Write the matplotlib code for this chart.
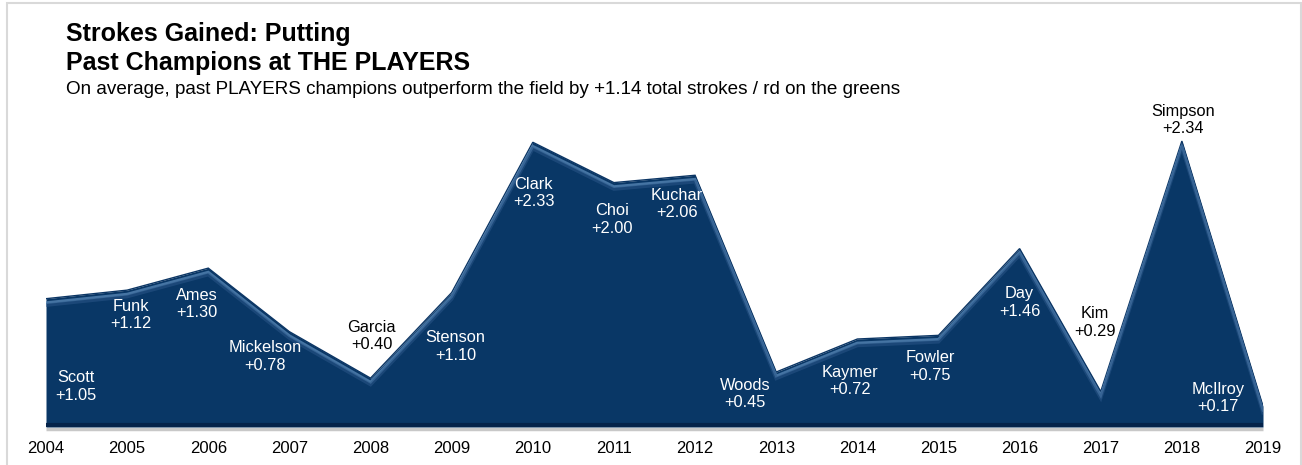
import matplotlib
matplotlib.use("Agg")
import matplotlib.pyplot as plt
import matplotlib.transforms as mtransforms
from matplotlib.patches import Rectangle
import numpy as np

plt.rcParams['font.family'] = ['Liberation Sans', 'DejaVu Sans']

years = [2004, 2005, 2006, 2007, 2008, 2009, 2010, 2011, 2012, 2013,
         2014, 2015, 2016, 2017, 2018, 2019]
players = ["Scott", "Funk", "Ames", "Mickelson", "Garcia", "Stenson", "Clark",
           "Choi", "Kuchar", "Woods", "Kaymer", "Fowler", "Day", "Kim",
           "Simpson", "McIlroy"]
sg_putting = [1.05, 1.12, 1.30, 0.78, 0.40, 1.10, 2.33, 2.00, 2.06, 0.45,
              0.72, 0.75, 1.46, 0.29, 2.34, 0.17]

# label placement offsets (pixels, +dy = downwards) and colours
label_dx = [30, 4, -11, -24, 1, 4, 1, -2, -18, -31, -7, -8, 0, -6, 1, -45]
label_dy = [88, 25, 36, 25, -42, 54, 51, 37, 29, 22, 42, 31, 54, -69, -21, -8]
label_col = ['white'] * 16
label_col[4] = 'black'
label_col[13] = 'black'
label_col[14] = 'black'

W, H = 1302, 465
fig = plt.figure(figsize=(W / 100, H / 100), dpi=100)
fig.patch.set_facecolor('white')

# figure border
fig.add_artist(Rectangle((7 / W, -0.01), (1300.5 - 7) / W, (H - 3.5) / H + 0.01,
                         transform=fig.transFigure, fill=False,
                         edgecolor='#d9d9d9', linewidth=1.5))

x0, x1 = 46, 1263
base = 427
ppu = 122.2
ytop = 2.6
ax = fig.add_axes([x0 / W, (H - base) / H, (x1 - x0) / W, ytop * ppu / H])
ax.set_xlim(years[0], years[-1])
ax.set_ylim(0, ytop)
for s in ax.spines.values():
    s.set_visible(False)
ax.set_yticks([])
ax.set_xticks(years)
ax.set_xticklabels([str(y) for y in years], fontsize=12)
ax.tick_params(axis='x', length=0, pad=10)
ax.patch.set_alpha(0)

fill_col = '#093766'
poly = ax.fill_between(years, 0, sg_putting, color=fill_col, linewidth=0, zorder=2)
clip = poly.get_paths()[0]

# bevel: highlight just inside the top edge
ax.plot(years, sg_putting, color='#0b3564', linewidth=1.0, zorder=3,
        solid_joinstyle='miter')
off = mtransforms.offset_copy(ax.transData, fig=fig, x=0, y=-4, units='dots')
hl, = ax.plot(years, sg_putting, color='#5584b3', linewidth=2.0, alpha=0.8,
              transform=off, zorder=3, solid_joinstyle='miter')
hl.set_clip_path(clip, ax.transData)
off2 = mtransforms.offset_copy(ax.transData, fig=fig, x=0, y=-6.5, units='dots')
hl2, = ax.plot(years, sg_putting, color='#2a5688', linewidth=2.5, alpha=0.55,
               transform=off2, zorder=3, solid_joinstyle='miter')
hl2.set_clip_path(clip, ax.transData)

# bottom dark strip and grey shadow
offb = mtransforms.offset_copy(ax.transData, fig=fig, x=0, y=2, units='dots')
ax.plot([years[0], years[-1]], [0, 0], color='#04234a', linewidth=3,
        transform=offb, zorder=4, solid_capstyle='butt')
offs = mtransforms.offset_copy(ax.transData, fig=fig, x=0, y=-2, units='dots')
ax.plot([years[0], years[-1]], [0, 0], color='#c8c8c8', linewidth=2.5,
        transform=offs, zorder=1, solid_capstyle='butt', clip_on=False)

for yr, v, name, dx, dy, c in zip(years, sg_putting, players, label_dx,
                                  label_dy, label_col):
    ax.annotate(f"{name}\n+{v:.2f}", xy=(yr, v), xytext=(dx * 0.72, -dy * 0.72),
                textcoords='offset points', ha='center', va='center',
                fontsize=11.8, color=c, linespacing=1.2, zorder=6,
                annotation_clip=False)

fig.text(66 / W, 1 - 34 / H, "Strokes Gained: Putting", fontsize=18,
         fontweight='bold', ha='left', va='center')
fig.text(66 / W, 1 - 63 / H, "Past Champions at THE PLAYERS", fontsize=18,
         fontweight='bold', ha='left', va='center')
fig.text(66 / W, 1 - 89 / H,
         "On average, past PLAYERS champions outperform the field by +1.14 "
         "total strokes / rd on the greens", fontsize=13.6, ha='left',
         va='center')

fig.savefig("out.png", dpi=100, facecolor='white')
